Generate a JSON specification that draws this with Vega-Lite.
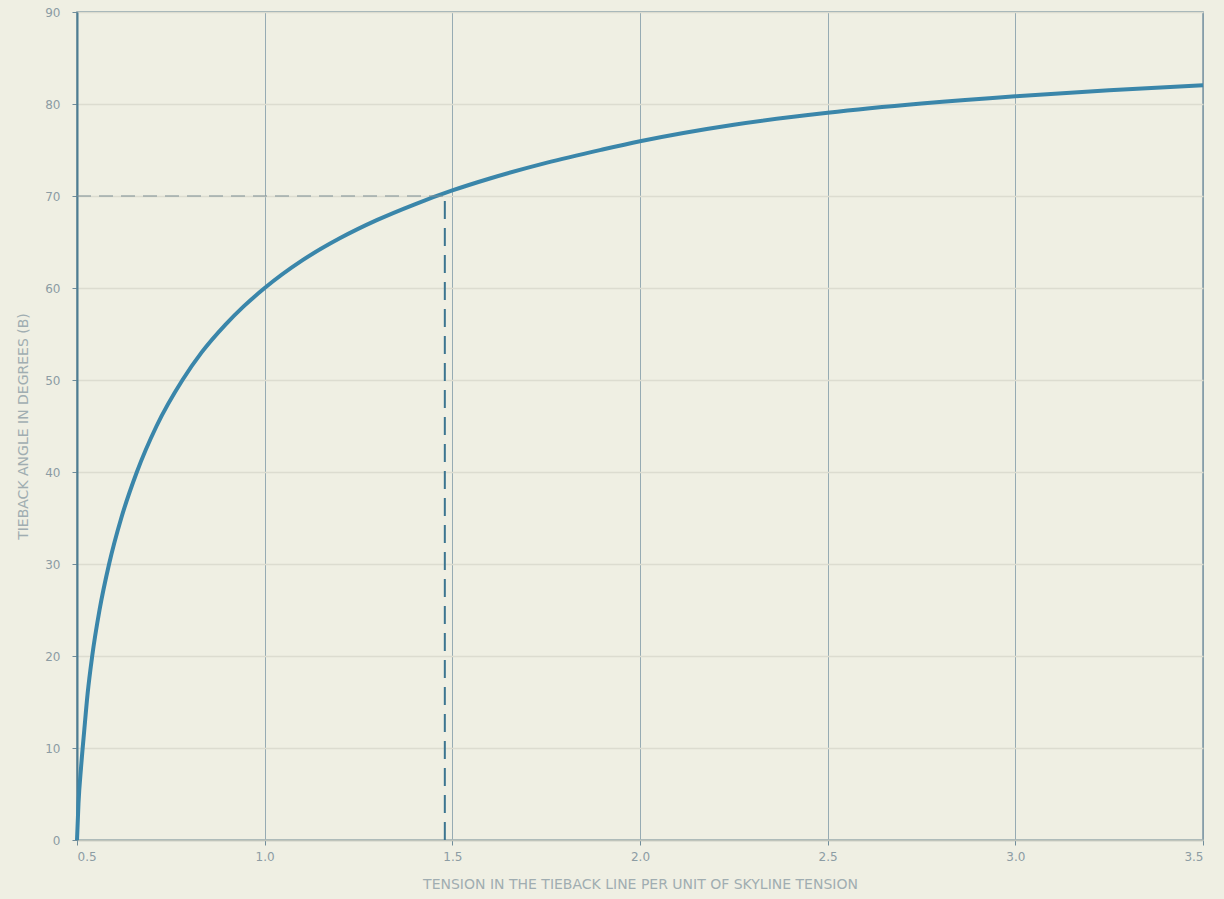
{
  "$schema": "https://vega.github.io/schema/vega-lite/v6.json",
  "width": 1126,
  "height": 828,
  "autosize": {"type": "none"},
  "padding": {"left": 77, "top": 12, "right": 21, "bottom": 59},
  "background": "#efefe3",
  "config": {
    "view": {"stroke": "#7d97a4", "strokeWidth": 1.5},
    "font": "DejaVu Sans",
    "axis": {
      "labelColor": "#8c9ca3",
      "labelFont": "DejaVu Sans",
      "labelFontSize": 12,
      "titleColor": "#a0adb1",
      "titleFont": "DejaVu Sans",
      "titleFontSize": 14,
      "titleFontWeight": "normal",
      "tickColor": "#6f8c9a",
      "tickSize": 5,
      "domainColor": "#4d7d92"
    }
  },
  "datasets": {
    "curve": [
      {"tension": 0.5000, "angle": 0},
      {"tension": 0.5040, "angle": 4},
      {"tension": 0.5110, "angle": 8},
      {"tension": 0.5195, "angle": 12},
      {"tension": 0.5285, "angle": 16},
      {"tension": 0.5405, "angle": 20},
      {"tension": 0.5600, "angle": 25},
      {"tension": 0.5855, "angle": 30},
      {"tension": 0.6180, "angle": 35},
      {"tension": 0.6595, "angle": 40},
      {"tension": 0.7120, "angle": 45},
      {"tension": 0.7810, "angle": 50},
      {"tension": 0.8320, "angle": 53},
      {"tension": 0.8950, "angle": 56},
      {"tension": 0.9440, "angle": 58},
      {"tension": 1.000, "angle": 60.0},
      {"tension": 1.100, "angle": 63.0},
      {"tension": 1.200, "angle": 65.4},
      {"tension": 1.300, "angle": 67.4},
      {"tension": 1.400, "angle": 69.1},
      {"tension": 1.500, "angle": 70.6},
      {"tension": 1.600, "angle": 71.9},
      {"tension": 1.750, "angle": 73.6},
      {"tension": 1.900, "angle": 75.05},
      {"tension": 2.000, "angle": 75.95},
      {"tension": 2.250, "angle": 77.75},
      {"tension": 2.500, "angle": 79.05},
      {"tension": 2.750, "angle": 80.05},
      {"tension": 3.000, "angle": 80.85},
      {"tension": 3.250, "angle": 81.5},
      {"tension": 3.500, "angle": 82.05}
    ],
    "hdash": [
      {"tension": 0.5, "tension2": 1.48, "angle": 70}
    ],
    "vdash": [
      {"tension": 1.48, "angle": 0, "angle2": 70}
    ]
  },
  "layer": [
    {
      "data": {"name": "curve"},
      "mark": {"type": "line", "color": "#3a86aa", "strokeWidth": 4, "interpolate": "monotone"},
      "encoding": {
        "x": {
          "field": "tension", "type": "quantitative",
          "scale": {"domain": [0.5, 3.5], "nice": false, "zero": false},
          "axis": {
            "values": [0.5, 1.0, 1.5, 2.0, 2.5, 3.0, 3.5],
            "format": ".1f",
            "labelPadding": 6,
            "title": "TENSION IN THE TIEBACK LINE PER UNIT OF SKYLINE TENSION",
            "titlePadding": 15,
            "grid": true,
            "gridColor": "#7f9aa6",
            "gridWidth": 1,
            "gridOpacity": 0.8,
            "domainColor": "#bfc4bb",
            "domainWidth": 1.5
          }
        },
        "y": {
          "field": "angle", "type": "quantitative",
          "scale": {"domain": [0, 90], "nice": false},
          "axis": {
            "values": [0, 10, 20, 30, 40, 50, 60, 70, 80, 90],
            "labelPadding": 12,
            "title": "TIEBACK ANGLE IN DEGREES (B)",
            "titlePadding": 14,
            "grid": true,
            "gridColor": "#dcdcd0",
            "gridWidth": 1.5,
            "domainWidth": 2
          }
        }
      }
    },
    {
      "data": {"name": "hdash"},
      "mark": {"type": "rule", "color": "#7d8d94", "strokeWidth": 1.2, "strokeDash": [14, 8]},
      "encoding": {
        "x": {"field": "tension", "type": "quantitative"},
        "x2": {"field": "tension2"},
        "y": {"field": "angle", "type": "quantitative"}
      }
    },
    {
      "data": {"name": "vdash"},
      "mark": {"type": "rule", "color": "#3c7590", "strokeWidth": 2, "strokeDash": [18, 9]},
      "encoding": {
        "x": {"field": "tension", "type": "quantitative"},
        "y": {"field": "angle", "type": "quantitative"},
        "y2": {"field": "angle2"}
      }
    }
  ]
}
